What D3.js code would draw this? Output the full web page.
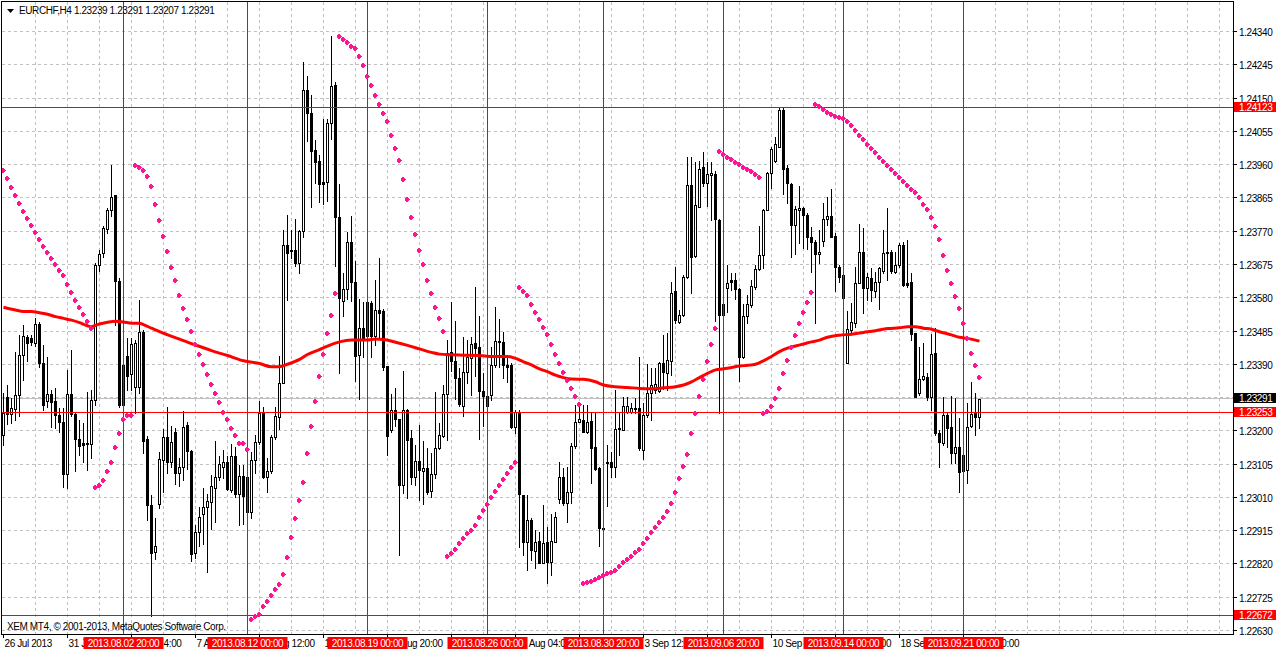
<!DOCTYPE html>
<html><head><meta charset="utf-8">
<script src="https://cdn.jsdelivr.net/npm/d3@7/dist/d3.min.js"></script>
<style>
html,body{margin:0;padding:0;background:#fff;overflow:hidden}
svg{display:block}
text{font-family:"Liberation Sans",Arial,sans-serif;font-size:10px;letter-spacing:-0.4px}
</style></head><body>
<svg id="c" width="1276" height="652"></svg>
<script>
// ---------------- DATA ----------------
const symbolTitle = "EURCHF,H4  1.23239 1.23291 1.23207 1.23291";
const copyright = "XEM MT4, \u00A9 2001-2013, MetaQuotes Software Corp.";

const opens = [1.23188,1.23296,1.23248,1.23262,1.23303,1.23417,1.23467,1.23464,1.23452,1.23505,
1.23393,1.23286,1.23305,1.23286,1.23245,1.23226,1.23076,1.23305,1.23248,1.23176,
1.23165,1.23161,1.23162,1.23288,1.23674,1.23707,1.23775,1.23829,1.23873,1.23629,
1.23274,1.23414,1.23362,1.23326,1.23325,1.23481,1.23176,1.22989,1.22855,1.22990,
1.23118,1.23182,1.23112,1.23198,1.23080,1.23096,1.23218,1.23142,1.22852,1.22910,
1.22964,1.22983,1.22996,1.23037,1.23067,1.23096,1.23112,1.23032,1.23128,1.23021,
1.23071,1.23067,1.22967,1.23118,1.23168,1.23252,1.23069,1.23085,1.23182,1.23239,
1.23336,1.23730,1.23716,1.23716,1.23680,1.23770,1.24174,1.24106,1.24002,1.23969,
1.23910,1.23910,1.24078,1.24186,1.23810,1.23572,1.23604,1.23738,1.23624,1.23417,
1.23493,1.23470,1.23565,1.23470,1.23545,1.23542,1.23385,1.23201,1.23260,1.23233,
1.23044,1.23260,1.23179,1.23069,1.23115,1.23085,1.23095,1.23028,1.23076,1.23152,
1.23186,1.23306,1.23424,1.23400,1.23352,1.23272,1.23368,1.23408,1.23451,1.23439,
1.23313,1.23300,1.23302,1.23388,1.23456,1.23454,1.23388,1.23388,1.23212,1.23255,
1.23017,1.22884,1.22945,1.22857,1.22886,1.22824,1.22884,1.22826,1.22884,1.23004,
1.23069,1.22995,1.23024,1.23157,1.23226,1.23231,1.23198,1.23229,1.23153,1.23093,
1.22924,1.23107,1.23110,1.23098,1.23204,1.23202,1.23255,1.23255,1.23261,1.23264,
1.23145,1.23245,1.23309,1.23317,1.23315,1.23393,1.23366,1.23400,1.23600,1.23512,
1.23531,1.23638,1.23902,1.23699,1.23840,1.23952,1.23907,1.23931,1.23933,1.23802,
1.23531,1.23607,1.23631,1.23631,1.23604,1.23410,1.23528,1.23559,1.23611,1.23661,
1.23701,1.23830,1.23935,1.23971,1.24011,1.24115,1.23949,1.23904,1.23788,1.23830,
1.23835,1.23816,1.23754,1.23740,1.23705,1.23743,1.23804,1.23813,1.23756,1.23669,
1.23645,1.23393,1.23488,1.23509,1.23623,1.23711,1.23607,1.23635,1.23600,1.23626,
1.23656,1.23711,1.23711,1.23654,1.23673,1.23731,1.23623,1.23626,1.23478,1.23307,
1.23347,1.23353,1.23298,1.23421,1.23193,1.23164,1.23245,1.23210,1.23138,1.23155,
1.23130,1.23088,1.23214,1.23250,1.23239];
const highs = [1.23307,1.23331,1.23293,1.23426,1.23474,1.23502,1.23474,1.23474,1.23521,1.23512,
1.23445,1.23412,1.23317,1.23322,1.23264,1.23264,1.23374,1.23431,1.23250,1.23231,
1.23222,1.23312,1.23317,1.23678,1.23716,1.23785,1.23835,1.23959,1.23873,1.23636,
1.23431,1.23464,1.23464,1.23460,1.23574,1.23488,1.23184,1.23017,1.22950,1.23140,
1.23204,1.23268,1.23214,1.23209,1.23123,1.23257,1.23225,1.23144,1.22930,1.22983,
1.23037,1.23021,1.23075,1.23171,1.23128,1.23144,1.23128,1.23161,1.23155,1.23102,
1.23102,1.23080,1.23139,1.23187,1.23284,1.23268,1.23123,1.23187,1.23268,1.23413,
1.23773,1.23816,1.23773,1.23805,1.23773,1.24253,1.24214,1.24160,1.24031,1.23988,
1.24090,1.24090,1.24328,1.24195,1.23906,1.23650,1.23768,1.23812,1.23685,1.23577,
1.23567,1.23570,1.23572,1.23631,1.23694,1.23547,1.23385,1.23306,1.23321,1.23235,
1.23370,1.23262,1.23203,1.23159,1.23218,1.23172,1.23152,1.23136,1.23311,1.23223,
1.23331,1.23459,1.23567,1.23513,1.23380,1.23469,1.23459,1.23469,1.23611,1.23527,
1.23365,1.23321,1.23440,1.23553,1.23518,1.23483,1.23416,1.23393,1.23259,1.23259,
1.23017,1.23017,1.22950,1.22917,1.22912,1.22988,1.22926,1.22964,1.22969,1.23112,
1.23093,1.23098,1.23164,1.23274,1.23276,1.23274,1.23274,1.23252,1.23250,1.23098,
1.22926,1.23160,1.23141,1.23317,1.23250,1.23298,1.23298,1.23279,1.23293,1.23410,
1.23279,1.23391,1.23378,1.23378,1.23397,1.23474,1.23478,1.23626,1.23669,1.23545,
1.23645,1.23983,1.23983,1.23968,1.23970,1.23997,1.23968,1.23968,1.23943,1.23804,
1.23562,1.23673,1.23650,1.23650,1.23607,1.23562,1.23588,1.23631,1.23673,1.23785,
1.23832,1.23940,1.24011,1.24038,1.24123,1.24123,1.23959,1.23908,1.23842,1.23899,
1.23838,1.23821,1.23783,1.23745,1.23773,1.23849,1.23868,1.23889,1.23764,1.23673,
1.23645,1.23543,1.23566,1.23669,1.23790,1.23778,1.23650,1.23664,1.23654,1.23669,
1.23773,1.23835,1.23716,1.23711,1.23735,1.23740,1.23745,1.23652,1.23480,1.23440,
1.23450,1.23364,1.23476,1.23493,1.23202,1.23298,1.23250,1.23299,1.23293,1.23236,
1.23140,1.23280,1.23340,1.23307,1.23291];
const lows = [1.23160,1.23220,1.23222,1.23231,1.23241,1.23345,1.23398,1.23445,1.23441,1.23383,
1.23260,1.23269,1.23212,1.23207,1.23198,1.23041,1.23036,1.23241,1.23084,1.23131,
1.23112,1.23088,1.23122,1.23274,1.23655,1.23697,1.23764,1.23812,1.23502,1.23269,
1.23269,1.23317,1.23317,1.23250,1.23307,1.23136,1.22946,1.22672,1.22835,1.22980,
1.23026,1.23080,1.23096,1.23048,1.23042,1.23059,1.23091,1.22828,1.22838,1.22870,
1.22876,1.22798,1.22919,1.22940,1.23059,1.23064,1.23032,1.23026,1.23010,1.22930,
1.22935,1.22946,1.22951,1.23080,1.23161,1.23064,1.23026,1.23080,1.23177,1.23204,
1.23336,1.23574,1.23693,1.23671,1.23650,1.23752,1.24026,1.23838,1.23907,1.23854,
1.23848,1.23855,1.24033,1.23670,1.23365,1.23529,1.23575,1.23572,1.23341,1.23292,
1.23412,1.23419,1.23410,1.23444,1.23469,1.23375,1.23130,1.23198,1.23213,1.22845,
1.23022,1.23007,1.23048,1.23044,1.23002,1.22992,1.23019,1.23012,1.23066,1.23149,
1.23182,1.23174,1.23370,1.23292,1.23272,1.23243,1.23336,1.23302,1.23356,1.23176,
1.23213,1.23262,1.23288,1.23383,1.23383,1.23350,1.23340,1.23207,1.23193,1.22869,
1.22846,1.22803,1.22831,1.22807,1.22822,1.22822,1.22765,1.22788,1.22884,1.22993,
1.22988,1.22941,1.22993,1.23150,1.23226,1.23196,1.23193,1.23050,1.23088,1.22871,
1.22915,1.22985,1.23069,1.23069,1.23131,1.23202,1.23252,1.23250,1.23252,1.23145,
1.23121,1.23240,1.23230,1.23307,1.23312,1.23318,1.23317,1.23359,1.23507,1.23509,
1.23528,1.23635,1.23594,1.23697,1.23840,1.23899,1.23842,1.23802,1.23514,1.23250,
1.23526,1.23540,1.23602,1.23575,1.23343,1.23407,1.23507,1.23554,1.23604,1.23659,
1.23664,1.23829,1.23892,1.23968,1.24009,1.23876,1.23851,1.23695,1.23705,1.23737,
1.23721,1.23718,1.23654,1.23509,1.23680,1.23728,1.23788,1.23752,1.23600,1.23626,
1.23575,1.23393,1.23478,1.23497,1.23621,1.23537,1.23573,1.23571,1.23583,1.23547,
1.23650,1.23631,1.23650,1.23652,1.23669,1.23613,1.23612,1.23459,1.23296,1.23302,
1.23345,1.23288,1.23259,1.23188,1.23098,1.23160,1.23155,1.23109,1.23107,1.23026,
1.23050,1.23050,1.23212,1.23188,1.23207];
const closes = [1.23250,1.23248,1.23264,1.23303,1.23417,1.23471,1.23450,1.23455,1.23505,1.23393,
1.23274,1.23305,1.23283,1.23244,1.23224,1.23076,1.23305,1.23248,1.23176,1.23158,
1.23160,1.23165,1.23288,1.23674,1.23704,1.23778,1.23831,1.23867,1.23629,1.23274,
1.23388,1.23357,1.23447,1.23450,1.23481,1.23172,1.22989,1.22851,1.22870,1.23119,
1.23182,1.23112,1.23168,1.23080,1.23096,1.23212,1.23142,1.22849,1.22910,1.22953,
1.22983,1.22999,1.23042,1.23069,1.23104,1.23112,1.23035,1.23128,1.23021,1.23071,
1.23013,1.22967,1.23118,1.23168,1.23252,1.23069,1.23085,1.23182,1.23241,1.23336,
1.23730,1.23709,1.23712,1.23680,1.23770,1.24174,1.24106,1.23999,1.23967,1.23904,
1.23904,1.24079,1.24183,1.23810,1.23579,1.23604,1.23738,1.23624,1.23414,1.23493,
1.23464,1.23567,1.23470,1.23545,1.23535,1.23382,1.23186,1.23260,1.23233,1.23044,
1.23260,1.23174,1.23069,1.23115,1.23087,1.23095,1.23024,1.23076,1.23152,1.23189,
1.23306,1.23422,1.23400,1.23351,1.23277,1.23367,1.23410,1.23449,1.23437,1.23313,
1.23300,1.23272,1.23388,1.23456,1.23453,1.23388,1.23383,1.23212,1.23255,1.23019,
1.22884,1.22945,1.22860,1.22884,1.22824,1.22881,1.22826,1.22886,1.22955,1.23069,
1.22993,1.23026,1.23157,1.23226,1.23233,1.23198,1.23226,1.23150,1.23091,1.22924,
1.22919,1.23110,1.23098,1.23204,1.23207,1.23271,1.23271,1.23264,1.23264,1.23150,
1.23245,1.23309,1.23331,1.23334,1.23393,1.23369,1.23402,1.23594,1.23516,1.23531,
1.23640,1.23902,1.23697,1.23845,1.23947,1.23908,1.23933,1.23935,1.23804,1.23531,
1.23562,1.23623,1.23626,1.23604,1.23412,1.23528,1.23562,1.23613,1.23661,1.23702,
1.23830,1.23935,1.24004,1.24019,1.24115,1.23947,1.23908,1.23788,1.23832,1.23835,
1.23816,1.23754,1.23740,1.23705,1.23711,1.23804,1.23813,1.23754,1.23669,1.23640,
1.23578,1.23490,1.23512,1.23623,1.23711,1.23607,1.23638,1.23602,1.23626,1.23664,
1.23709,1.23709,1.23657,1.23673,1.23731,1.23616,1.23616,1.23476,1.23296,1.23347,
1.23357,1.23298,1.23419,1.23193,1.23169,1.23245,1.23207,1.23138,1.23153,1.23083,
1.23086,1.23212,1.23248,1.23240,1.23291];

// Parabolic SAR value for each bar
const sar = [1.23945,1.23921,1.23895,1.23873,1.23850,1.23828,1.23807,1.23787,1.23767,1.23747,
1.23729,1.23710,1.23693,1.23675,1.23659,1.23644,1.23618,1.23595,1.23573,1.23553,
1.23533,1.23513,1.23493,1.23039,1.23045,1.23060,1.23085,1.23110,1.23153,1.23193,
1.23233,1.23244,1.23244,1.23959,1.23952,1.23945,1.23928,1.23899,1.23848,1.23802,
1.23756,1.23712,1.23669,1.23630,1.23589,1.23552,1.23518,1.23484,1.23448,1.23419,
1.23391,1.23362,1.23333,1.23308,1.23281,1.23255,1.23233,1.23209,1.23188,1.23166,
1.23166,1.23147,1.22664,1.22672,1.22677,1.22699,1.22715,1.22731,1.22749,1.22763,
1.22790,1.22841,1.22897,1.22951,1.23003,1.23053,1.23137,1.23214,1.23286,1.23356,
1.23418,1.23478,1.23532,1.23594,1.24328,1.24320,1.24310,1.24300,1.24292,1.24270,
1.24243,1.24213,1.24186,1.24159,1.24134,1.24108,1.24085,1.24045,1.24008,1.23973,
1.23918,1.23862,1.23811,1.23762,1.23717,1.23675,1.23632,1.23594,1.23554,1.23521,
1.23486,1.22844,1.22850,1.22864,1.22879,1.22893,1.22907,1.22918,1.22932,1.22953,
1.22973,1.22990,1.23010,1.23027,1.23045,1.23062,1.23079,1.23096,1.23110,1.23610,
1.23600,1.23587,1.23561,1.23538,1.23518,1.23496,1.23476,1.23447,1.23418,1.23393,
1.23368,1.23345,1.23321,1.23299,1.23276,1.22765,1.22768,1.22772,1.22778,1.22784,
1.22788,1.22793,1.22798,1.22803,1.22814,1.22826,1.22835,1.22843,1.22854,1.22862,
1.22879,1.22893,1.22910,1.22925,1.22939,1.22953,1.22972,1.22993,1.23025,1.23065,
1.23099,1.23133,1.23193,1.23250,1.23299,1.23347,1.23399,1.23447,1.23493,1.23998,
1.23990,1.23983,1.23975,1.23967,1.23961,1.23952,1.23947,1.23941,1.23933,1.23926,
1.23250,1.23257,1.23271,1.23293,1.23321,1.23364,1.23401,1.23438,1.23473,1.23507,
1.23538,1.23567,1.23595,1.24133,1.24126,1.24118,1.24111,1.24105,1.24100,1.24095,
1.24092,1.24085,1.24072,1.24059,1.24044,1.24032,1.24019,1.24007,1.23995,1.23981,
1.23969,1.23958,1.23947,1.23935,1.23924,1.23914,1.23903,1.23891,1.23882,1.23867,
1.23848,1.23833,1.23810,1.23784,1.23747,1.23701,1.23658,1.23621,1.23584,1.23550,
1.23508,1.23465,1.23421,1.23387,1.23354];

// Moving average, read at these bars
const maBars = [0,3,5,7,9,11,13,15,17,19,21,22,23,24,26,28,30,32,34,35,37,39,44,48,52,56,60,64,67,69,71,74,76,79,81,84,87,91,93,95,98,101,104,107,109,112,115,120,122,126,128,130,132,134,136,138,140,142,145,148,150,153,156,159,162,165,168,170,172,174,176,178,180,182,184,186,188,190,192,194,196,198,200,202,204,206,209,212,215,218,221,224,226,228,230,232,234,237,239,241,243,244];
const maValues = [1.23553,1.23545,1.23541,1.23541,1.23537,1.23533,1.23526,1.23521,1.23516,1.23509,1.23500,1.23497,1.23501,1.23505,1.23510,1.23513,1.23511,1.23507,1.23507,1.23503,1.23493,1.23483,1.23462,1.23445,1.23429,1.23415,1.23400,1.23392,1.23383,1.23383,1.23390,1.23404,1.23418,1.23432,1.23442,1.23454,1.23459,1.23459,1.23462,1.23461,1.23453,1.23444,1.23434,1.23424,1.23419,1.23417,1.23416,1.23414,1.23412,1.23412,1.23407,1.23397,1.23388,1.23377,1.23369,1.23359,1.23352,1.23348,1.23347,1.23340,1.23331,1.23326,1.23324,1.23321,1.23320,1.23323,1.23326,1.23331,1.23340,1.23352,1.23364,1.23374,1.23377,1.23381,1.23385,1.23387,1.23390,1.23400,1.23412,1.23426,1.23436,1.23442,1.23448,1.23454,1.23459,1.23467,1.23473,1.23476,1.23481,1.23486,1.23492,1.23494,1.23497,1.23497,1.23493,1.23490,1.23483,1.23474,1.23467,1.23464,1.23459,1.23456];

const priceTicks = [1.24340,1.24245,1.24150,1.24055,1.23960,1.23865,1.23770,1.23675,1.23580,1.23485,1.23390,1.23295,1.23200,1.23105,1.23010,1.22915,1.22820,1.22725,1.22630];
const timeTickBars = [0,16,32,48,64,80,96,112,128,144,160,176,192,208,224,240];
const timeTickLabels = ["26 Jul 2013","31 Jul 12:00","5 Aug 04:00","7 Aug 20:00","12 Aug 12:00","15 Aug 04:00","19 Aug 20:00","22 Aug 12:00","27 Aug 04:00","29 Aug 20:00","3 Sep 12:00","6 Sep 04:00","10 Sep 20:00","13 Sep 12:00","18 Sep 04:00","20 Sep 20:00"];
const vlineBars = [30,61,91,121,150,180,210,240];
const vlineLabels = ["2013.08.02 20:00","2013.08.12 00:00","2013.08.19 00:00","2013.08.26 00:00","2013.08.30 20:00","2013.09.06 20:00","2013.09.14 00:00","2013.09.21 00:00"];
const hlinePrices = [1.24123,1.23253,1.22672];
const bidPrice = 1.23291;

// ---------------- DRAW ----------------
const svg = d3.select("#c");
const L = 2, R = 1233, T = 2, B = 634;
const x = d3.scaleLinear().domain([0, 305]).range([3.5, 1223.5]);
const y = d3.scaleLinear().domain([1.22630, 1.24340]).range([630.5, 31.5]);
const crisp = v => Math.round(v - 0.5) + 0.5;
const RED = "#ff0000", PINK = "#ff1493", GRID = "#c0c0c0";

const plot = svg.append("g");
plot.selectAll("line.hg").data(priceTicks).join("line")
  .attr("x1", L).attr("x2", R).attr("y1", d => crisp(y(d))).attr("y2", d => crisp(y(d)))
  .attr("stroke", GRID).attr("stroke-dasharray", "3,3");
const gridBars = d3.range(8, 305, 8);
plot.selectAll("line.vg").data(gridBars).join("line")
  .attr("x1", d => x(d)).attr("x2", d => x(d)).attr("y1", T).attr("y2", B)
  .attr("stroke", GRID).attr("stroke-dasharray", "3,3");

plot.append("line").attr("x1", L).attr("x2", R)
  .attr("y1", crisp(y(bidPrice))).attr("y2", crisp(y(bidPrice))).attr("stroke", "#c0c0c0");

// candles
const bars = opens.map((o, i) => ({i, o, h: highs[i], l: lows[i], c: closes[i]}));
const cg = plot.append("g");
cg.selectAll("line.w").data(bars).join("line")
  .attr("x1", d => x(d.i)).attr("x2", d => x(d.i))
  .attr("y1", d => Math.round(y(d.h))).attr("y2", d => Math.round(y(d.l)) + 1)
  .attr("stroke", "#000");
bars.forEach(d => {
  const cx = x(d.i);
  const yt = Math.round(y(Math.max(d.o, d.c))), yb = Math.round(y(Math.min(d.o, d.c)));
  if (d.c >= d.o) {
    if (yb - yt < 1) {
      cg.append("rect").attr("x", cx - 1.5).attr("y", yt).attr("width", 3).attr("height", 1).attr("fill", "#000");
    } else {
      cg.append("rect").attr("x", cx - 1).attr("y", yt + 0.5).attr("width", 2).attr("height", yb - yt)
        .attr("fill", "#fff").attr("stroke", "#000");
    }
  } else {
    cg.append("rect").attr("x", cx - 1.5).attr("y", yt).attr("width", 3).attr("height", Math.max(1, yb - yt + 1))
      .attr("fill", "#000");
  }
});

plot.selectAll("line.vl").data(vlineBars).join("line")
  .attr("x1", d => x(d)).attr("x2", d => x(d)).attr("y1", T).attr("y2", B).attr("stroke", RED);
plot.selectAll("line.hl").data(hlinePrices).join("line")
  .attr("x1", L).attr("x2", R).attr("y1", d => crisp(y(d))).attr("y2", d => crisp(y(d))).attr("stroke", RED);

const maLine = d3.line().x(d => x(d[0])).y(d => y(d[1])).curve(d3.curveMonotoneX);
plot.append("path").datum(maBars.map((b, k) => [b, maValues[k]]))
  .attr("d", maLine).attr("fill", "none").attr("stroke", RED).attr("stroke-width", 3);

const sg = plot.append("g").attr("fill", PINK);
sar.forEach((v, i) => {
  const cx = x(i) - 0.5, cy = Math.round(y(v));
  sg.append("rect").attr("x", cx - 2).attr("y", cy - 1).attr("width", 4).attr("height", 3);
  sg.append("rect").attr("x", cx - 1).attr("y", cy - 2).attr("width", 2).attr("height", 5);
  sg.append("rect").attr("x", cx + 2).attr("y", cy).attr("width", 1).attr("height", 1);
});

// frame
svg.append("rect").attr("x", 1.5).attr("y", 1.5).attr("width", R - 1.5 + 0.5).attr("height", B - 1.5 + 0.5)
  .attr("fill", "none").attr("stroke", "#000");

// title and copyright
svg.append("path").attr("d", "M7,9 L14,9 L10.5,13 Z").attr("fill", "#000");
svg.append("text").attr("x", 19).attr("y", 14).attr("fill", "#000").text(symbolTitle);
svg.append("text").attr("x", 7).attr("y", 630).attr("fill", "#000").text(copyright);

// price axis
const markerPrices = [bidPrice].concat(hlinePrices);
const pa = svg.append("g");
pa.selectAll("line").data(priceTicks).join("line")
  .attr("x1", R).attr("x2", R + 4).attr("y1", d => crisp(y(d))).attr("y2", d => crisp(y(d))).attr("stroke", "#000");
pa.selectAll("text").data(priceTicks.filter(p => markerPrices.every(m => Math.abs(y(m) - y(p)) > 7))).join("text")
  .attr("x", 1239).attr("y", d => crisp(y(d)) + 4).attr("fill", "#000").text(d => d.toFixed(5));

function marker(p, bg) {
  const yy = crisp(y(p));
  svg.append("rect").attr("x", 1234).attr("y", yy - 5.5).attr("width", 42).attr("height", 10).attr("fill", bg);
  svg.append("text").attr("x", 1239).attr("y", yy + 3.5).attr("fill", "#fff").text(p.toFixed(5));
}
marker(bidPrice, "#000");
hlinePrices.forEach(p => marker(p, RED));

// time axis (tick labels partly hidden by the line labels, as in the terminal)
const boxes = vlineBars.map(b => [x(b) - 40, x(b) + 40]);
const ta = svg.append("g");
ta.selectAll("line").data(timeTickBars).join("line")
  .attr("x1", d => x(d)).attr("x2", d => x(d)).attr("y1", B).attr("y2", B + 4).attr("stroke", "#000");
timeTickBars.forEach((b, k) => {
  const s = timeTickLabels[k];
  const t = ta.append("text").attr("x", x(b) + 1).attr("y", 646.5).text(s);
  const node = t.node();
  const segs = []; let cur = null;
  for (let j = 0; j < s.length; j++) {
    const a = node.getStartPositionOfChar(j).x, e = node.getEndPositionOfChar(j).x;
    const mid = (a + e) / 2;
    const hidden = boxes.some(([b0, b1]) => mid > b0 + 1 && mid < b1 - 1);
    if (hidden) { cur = null; continue; }
    if (!cur) { if (s[j] === " ") continue; cur = {x: a, str: ""}; segs.push(cur); }
    cur.str += s[j];
  }
  t.remove();
  segs.forEach(sgm => ta.append("text").attr("x", sgm.x).attr("y", 646.5).attr("fill", "#000").text(sgm.str.trimEnd()));
});
vlineBars.forEach((b, k) => {
  const cx = x(b);
  svg.append("rect").attr("x", cx - 40).attr("y", 637).attr("width", 80).attr("height", 12).attr("fill", RED);
  svg.append("text").attr("x", cx).attr("y", 646.5).attr("text-anchor", "middle").attr("fill", "#fff").text(vlineLabels[k]);
});
</script></body></html>
